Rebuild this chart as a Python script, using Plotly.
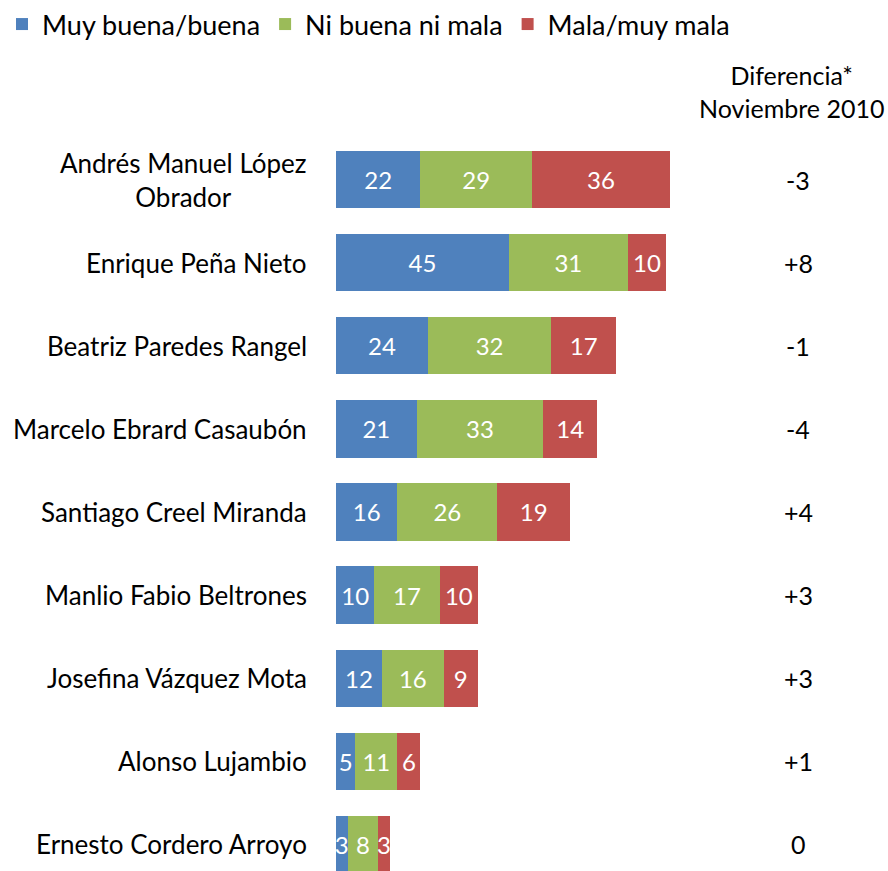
import plotly.graph_objects as go

candidatos = ["Andrés Manuel López<br>Obrador", "Enrique Peña Nieto", "Beatriz Paredes Rangel",
              "Marcelo Ebrard Casaubón", "Santiago Creel Miranda", "Manlio Fabio Beltrones",
              "Josefina Vázquez Mota", "Alonso Lujambio", "Ernesto Cordero Arroyo"]
buena = [22, 45, 24, 21, 16, 10, 12, 5, 3]
ni_buena = [29, 31, 32, 33, 26, 17, 16, 11, 8]
mala = [36, 10, 17, 14, 19, 10, 9, 6, 3]
diferencia = ["-3", "+8", "-1", "-4", "+4", "+3", "+3", "+1", "0"]

series = [("Muy buena/buena", buena, "#4F81BD"),
          ("Ni buena ni mala", ni_buena, "#9BBB59"),
          ("Mala/muy mala", mala, "#C0504D")]

FONT = "Lato, Carlito, Calibri, sans-serif"
W, H = 888, 871

fig = go.Figure()
for name, vals, color in series:
    fig.add_trace(go.Bar(
        y=candidatos, x=vals, name=name, orientation="h",
        marker=dict(color=color, line=dict(width=0)),
        text=vals, textposition="inside", insidetextanchor="middle",
        textangle=0, constraintext="none",
        insidetextfont=dict(color="white", size=24, family=FONT),
    ))

# etiquetas de candidatos (centradas como en el original)
for cand in candidatos:
    fig.add_annotation(text=cand, xref="paper", yref="y", x=309 / W, y=cand,
                       xanchor="right", align="center", showarrow=False,
                       font=dict(size=26, family=FONT, color="black"))

# columna de diferencias
fig.add_annotation(text="Diferencia*<br>Noviembre 2010", xref="paper", yref="paper",
                   x=791 / W, y=1 - 92 / H, xanchor="center", yanchor="middle",
                   showarrow=False, font=dict(size=25, family=FONT, color="black"))
for cand, d in zip(candidatos, diferencia):
    fig.add_annotation(text=d, xref="paper", yref="y", x=798 / W, y=cand,
                       xanchor="center", showarrow=False,
                       font=dict(size=25, family=FONT, color="black"))

fig.update_layout(
    width=W, height=H,
    margin=dict(l=0, r=0, t=0, b=0),
    barmode="stack", bargap=0.31,
    plot_bgcolor="white", paper_bgcolor="white",
    font=dict(family=FONT, size=25, color="black"),
    uniformtext=dict(minsize=24, mode="show"),
    legend=dict(orientation="h", x=2 / W, y=1, xanchor="left", yanchor="top",
                font=dict(size=27, family=FONT), itemwidth=30, traceorder="normal"),
    xaxis=dict(domain=[336 / W, 1], range=[0, 143.75], visible=False, fixedrange=True),
    yaxis=dict(domain=[0, 1 - 138 / H], range=[8.32, -0.5], showgrid=False,
               showline=False, ticks="", showticklabels=False, automargin=False),
)

# quitar el margen por defecto del body para que la figura ocupe la ventana
fig.write_html("out.html", config={"displayModeBar": False},
               post_script="document.body.style.margin='0';")
